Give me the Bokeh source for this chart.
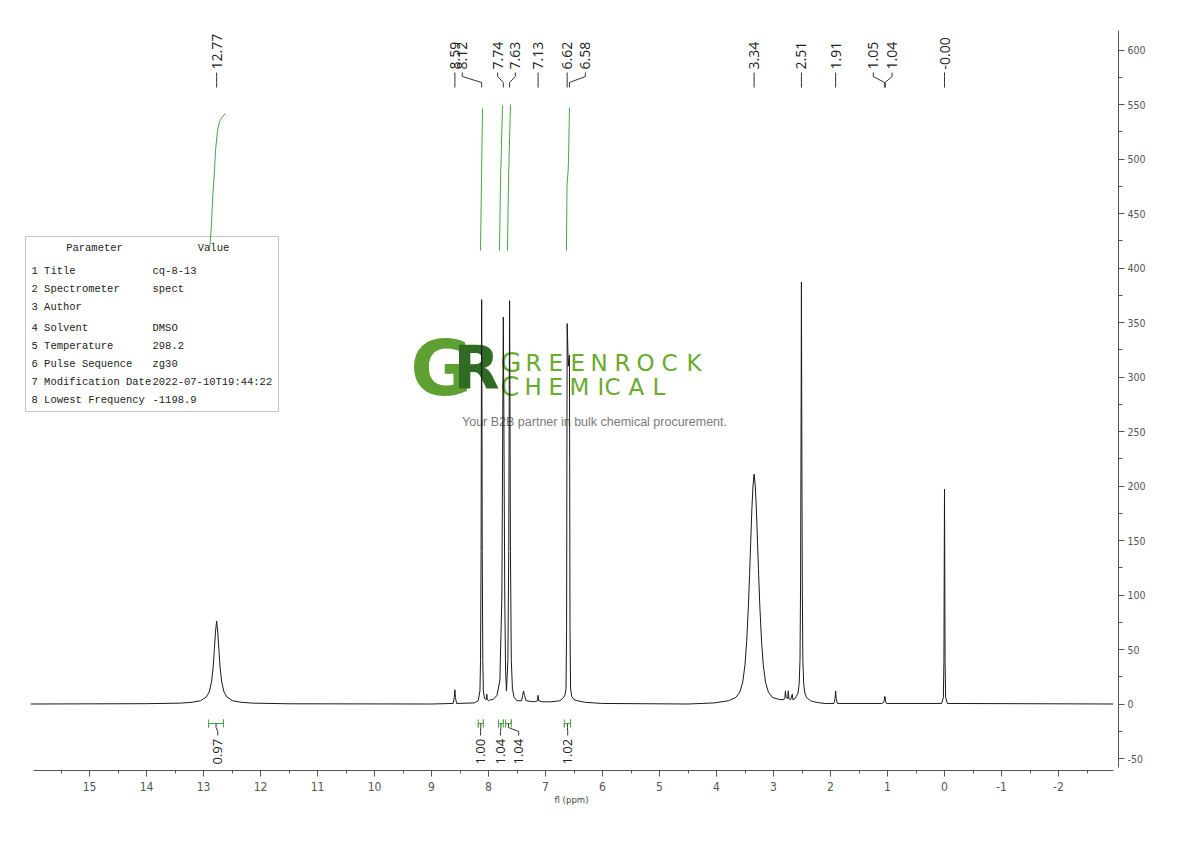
import math
from bokeh.plotting import figure
from bokeh.models import Range1d, FixedTicker
from bokeh.core.properties import value
from bokeh.embed import file_html
from bokeh.resources import INLINE

# ---------------- DATA ----------------
# 1H NMR trace: chemical shift (ppm) and intensity
trace_ppm = [16.03, 14.00, 13.40, 13.20, 13.05, 12.95, 12.90, 12.86, 12.83, 12.81, 12.79, 12.77,
             12.75, 12.73, 12.71, 12.68, 12.64, 12.59, 12.49, 12.34, 12.14, 11.50, 9.00,
             8.62, 8.60, 8.59, 8.58, 8.56, 8.25, 8.18, 8.15, 8.14, 8.13, 8.125, 8.12, 8.115, 8.11,
             8.10, 8.09, 8.07, 8.04, 8.03, 8.02, 8.00, 7.96, 7.92, 7.85, 7.80, 7.765, 7.75, 7.74,
             7.73, 7.715, 7.70, 7.685, 7.66, 7.645, 7.635, 7.63, 7.625, 7.615, 7.60, 7.58, 7.55,
             7.50, 7.42, 7.40, 7.385, 7.37, 7.34, 7.20, 7.14, 7.13, 7.12, 7.05, 6.90, 6.75, 6.70,
             6.66, 6.64, 6.63, 6.62, 6.60, 6.58, 6.57, 6.56, 6.54, 6.50, 6.44,
             6.30, 6.00, 4.50, 4.04, 3.79, 3.66, 3.59, 3.54, 3.50, 3.47, 3.44, 3.42, 3.40, 3.38,
             3.36, 3.34, 3.32, 3.30, 3.28, 3.26, 3.24, 3.21, 3.18, 3.14, 3.09, 3.02, 2.89, 2.82,
             2.80, 2.79, 2.78, 2.75, 2.74, 2.73, 2.70, 2.67, 2.66, 2.62, 2.60, 2.57, 2.55, 2.535,
             2.525, 2.515, 2.51, 2.505, 2.495, 2.485, 2.47, 2.45, 2.42, 2.35, 2.25, 2.10, 1.94,
             1.92, 1.91, 1.90, 1.88, 1.10, 1.065, 1.055, 1.05, 1.045, 1.04, 1.035, 1.02, 0.05,
             0.02, 0.01, 0.005, 0.00, -0.005, -0.01, -0.02, -0.05, -2.96]
trace_int = [0.0, 0.3, 0.8, 1.6, 3.0, 6.5, 11.0, 20.0, 34.0, 50.0, 66.0, 76.0,
             66.0, 50.0, 34.0, 20.0, 11.0, 6.5, 3.0, 1.6, 0.8, 0.2, 0.0,
             0.5, 6.0, 13.0, 6.0, 0.5, 1.0, 3.0, 12.0, 40.0, 140.0, 280.0, 371.0, 280.0, 140.0,
             40.0, 12.0, 5.0, 4.0, 9.0, 4.0, 3.0, 4.0, 4.0, 8.0, 22.0, 100.0, 260.0, 355.0,
             260.0, 100.0, 30.0, 12.0, 40.0, 140.0, 300.0, 370.0, 300.0, 140.0, 40.0, 14.0, 6.0,
             3.0, 3.0, 8.0, 12.0, 8.0, 3.0, 2.0, 3.0, 8.0, 3.0, 2.0, 2.0, 3.0, 5.0,
             8.0, 14.0, 70.0, 349.0, 310.0, 320.0, 70.0, 14.0, 7.0, 4.0, 3.0,
             1.5, 0.5, 0.0, 1.0, 3.0, 6.0, 11.0, 20.0, 36.0, 58.0, 90.0, 118.0, 148.0, 178.0,
             200.0, 211.0, 200.0, 178.0, 148.0, 118.0, 90.0, 58.0, 36.0, 20.0, 11.0, 6.0, 4.0, 4.0,
             6.0, 12.0, 6.0, 5.0, 12.0, 5.0, 4.0, 9.0, 4.0, 5.0, 7.0, 10.0, 18.0, 40.0,
             110.0, 280.0, 387.0, 280.0, 110.0, 40.0, 18.0, 10.0, 6.0, 3.0, 1.5, 0.5, 0.5,
             5.0, 12.0, 5.0, 0.5, 0.5, 1.5, 4.0, 7.0, 5.0, 6.0, 3.0, 0.5, 0.5,
             6.0, 40.0, 120.0, 197.0, 120.0, 40.0, 6.0, 0.5, 0.0]

# Peak picking labels
peak_labels = ["12.77", "8.59", "8.12", "7.74", "7.63", "7.13", "6.62", "6.58",
               "3.34", "2.51", "1.91", "1.05", "1.04", "-0.00"]
peak_ppm = [12.77, 8.59, 8.12, 7.74, 7.63, 7.13, 6.62, 6.58, 3.34, 2.51, 1.91, 1.05, 1.04, 0.00]
peak_label_ppm = [12.77, 8.59, 8.46, 7.84, 7.53, 7.13, 6.62, 6.30, 3.34, 2.51, 1.91, 1.25, 0.92, 0.00]

# Integrals
integral_labels = ["0.97", "1.00", "1.04", "1.04", "1.02"]
integral_from = [12.91, 8.18, 7.825, 7.70, 6.67]
integral_to = [12.65, 8.09, 7.74, 7.60, 6.56]
integral_label_ppm = [12.75, 8.14, 7.79, 7.47, 6.61]

# Integral curves (ppm, cumulative value)
intcurve_ppm = [
    [12.895, 12.860, 12.842, 12.807, 12.789, 12.754, 12.719, 12.667, 12.614],
    [8.140, 8.123, 8.105],
    [7.807, 7.789, 7.754],
    [7.667, 7.649, 7.614],
    [6.632, 6.623, 6.605, 6.596, 6.579],
]
intcurve_val = [
    [416.0, 439.0, 461.9, 489.4, 507.8, 526.1, 534.4, 539.0, 541.7],
    [416.0, 480.3, 546.3],
    [416.0, 480.3, 549.1],
    [416.0, 480.3, 550.0],
    [416.0, 475.7, 487.6, 498.6, 547.2],
]

# Axis ticks
x_ticks = [15, 14, 13, 12, 11, 10, 9, 8, 7, 6, 5, 4, 3, 2, 1, 0, -1, -2]
x_minor = [15.5, 14.5, 13.5, 12.5, 11.5, 10.5, 9.5, 8.5, 7.5, 6.5, 5.5, 4.5, 3.5, 2.5, 1.5,
           0.5, -0.5, -1.5, -2.5]
y_ticks = [-50, 0, 50, 100, 150, 200, 250, 300, 350, 400, 450, 500, 550, 600]
y_minor = [-25, 25, 75, 125, 175, 225, 275, 325, 375, 425, 475, 525, 575]

# Parameter table
param_names = ["1 Title", "2 Spectrometer", "3 Author", "4 Solvent", "5 Temperature",
               "6 Pulse Sequence", "7 Modification Date", "8 Lowest Frequency"]
param_values = ["cq-8-13", "spect", "", "DMSO", "298.2", "zg30", "2022-07-10T19:44:22", "-1198.9"]

# ---------------- LAYOUT helpers (page pixel -> data) ----------------
def dx(px):
    return (944.0 - px) / 57.0

def dy(py):
    return (703.5 - py) / 1.09

W, H = 1180, 830
p = figure(width=W, height=H, output_backend="svg", toolbar_location=None,
           x_range=Range1d(dx(24), dx(1118)), y_range=Range1d(dy(770), dy(30)),
           y_axis_location="right",
           min_border_left=24, min_border_right=W - 1118, min_border_top=30,
           min_border_bottom=H - 770)
p.outline_line_color = None
p.xgrid.visible = False
p.ygrid.visible = False
p.background_fill_color = "white"
p.border_fill_color = "white"

NARROW = "Liberation Sans Narrow, DejaVu Sans Condensed, Roboto"

xa = p.xaxis[0]
xa.ticker = FixedTicker(ticks=x_ticks, minor_ticks=x_minor)
xa.major_label_overrides = {t: str(t) for t in x_ticks}
xa.bounds = (15.98, -2.965)
xa.axis_line_color = "#555555"
xa.major_tick_line_color = "#555555"
xa.minor_tick_line_color = "#555555"
xa.major_tick_out = 6
xa.major_tick_in = 0
xa.minor_tick_out = 3
xa.minor_tick_in = 0
xa.major_label_text_font = NARROW
xa.major_label_text_font_size = "12px"
xa.major_label_text_color = "#555555"
xa.major_label_standoff = 5
xa.axis_label = "fl (ppm)"
xa.axis_label_text_font = NARROW
xa.axis_label_text_font_size = "9.5px"
xa.axis_label_text_font_style = "normal"
xa.axis_label_text_color = "#444444"
xa.axis_label_standoff = 0

ya = p.yaxis[0]
ya.ticker = FixedTicker(ticks=y_ticks, minor_ticks=y_minor)
ya.major_label_overrides = {t: str(t) for t in y_ticks}
ya.bounds = (dy(767), dy(30))
ya.axis_line_color = "#555555"
ya.major_tick_line_color = "#555555"
ya.minor_tick_line_color = "#555555"
ya.major_tick_out = 6
ya.major_tick_in = 0
ya.minor_tick_out = 4
ya.minor_tick_in = 0
ya.major_label_text_font = NARROW
ya.major_label_text_font_size = "10.5px"
ya.major_label_text_color = "#555555"
ya.major_label_standoff = 3

# ---------------- Watermark ----------------
p.text(x=[dx(441)], y=[dy(368)], text=["G"], text_font=value("DejaVu Sans"),
       text_font_style="bold", text_font_size=value("76px"), text_color="#5fa032",
       text_align="center", text_baseline="middle")
p.text(x=[dx(476)], y=[dy(367)], text=["R"], text_font=value("DejaVu Sans"),
       text_font_style="bold", text_font_size=value("60px"), text_color="#2f6b23",
       text_align="center", text_baseline="middle")
g_letters = list("GREENROCK")
g_starts = [500, 525, 548, 570, 590, 614, 636, 661, 686]
c_letters = list("CHEMICAL")
c_starts = [500, 524, 548, 569, 597, 604, 628, 652]
for letters, starts, base in ((g_letters, g_starts, 362), (c_letters, c_starts, 386)):
    p.text(x=[dx(starts[0])], y=[dy(base)], text=[letters[0]], text_font=value("DejaVu Sans"),
           text_font_size=value("27px"), text_color="#6aab2e", text_align="left",
           text_baseline="alphabetic")
    p.text(x=[dx(s) for s in starts[1:]], y=[dy(base)] * (len(starts) - 1), text=letters[1:],
           text_font=value("DejaVu Sans"), text_font_size=value("23px"), text_color="#6aab2e",
           text_align="left", text_baseline="alphabetic")
p.text(x=[dx(594)], y=[dy(421)], text=["Your B2B partner in bulk chemical procurement."],
       text_font=value("Liberation Sans"), text_font_size=value("12.5px"),
       text_color="#7a7a7a", text_align="center", text_baseline="middle")

# ---------------- Parameter table ----------------
p.quad(left=[dx(25)], right=[dx(278)], top=[dy(236)], bottom=[dy(411)],
       fill_color="white", line_color="#c4c4c4", line_width=1)
TFONT = value("Liberation Mono")
p.text(x=[dx(94), dx(213)], y=[dy(247)] * 2, text=["Parameter", "Value"], text_font=TFONT,
       text_font_size=value("10.5px"), text_color="#222222", text_align="center",
       text_baseline="middle")
row_y = [270, 288, 306, 327, 345, 363, 381, 399]
p.text(x=[dx(31)] * len(param_names), y=[dy(r) for r in row_y], text=param_names,
       text_font=TFONT, text_font_size=value("10.5px"), text_color="#222222",
       text_align="left", text_baseline="middle")
p.text(x=[dx(152)] * len(param_values), y=[dy(r) for r in row_y], text=param_values,
       text_font=TFONT, text_font_size=value("10.5px"), text_color="#222222",
       text_align="left", text_baseline="middle")

# ---------------- Spectrum ----------------
p.line(trace_ppm, trace_int, line_color="#1a1a1a", line_width=1)

# Integral curves
GREEN = "#48a548"
p.multi_line(xs=intcurve_ppm, ys=intcurve_val, line_color=GREEN, line_width=1)

# Integral brackets and labels
b_mid, b_half = dy(723), 3.7
br_xs, br_ys, con_xs, con_ys = [], [], [], []
for f, t, lx in zip(integral_from, integral_to, integral_label_ppm):
    br_xs.append([f, f, f, t, t, t])
    br_ys.append([b_mid + b_half, b_mid - b_half, b_mid, b_mid, b_mid + b_half, b_mid - b_half])
    c = (f + t) / 2.0
    con_xs.append([c, c, lx, lx])
    con_ys.append([b_mid, dy(727), dy(731), dy(735)])
p.multi_line(xs=br_xs, ys=br_ys, line_color=GREEN, line_width=1)
p.multi_line(xs=con_xs, ys=con_ys, line_color="#333333", line_width=1)
p.text(x=integral_label_ppm, y=[dy(764)] * len(integral_labels), text=integral_labels,
       angle=math.pi / 2, text_font=value("Open Sans"), text_font_size=value("13px"),
       text_color="#222222", text_align="left", text_baseline="middle")

# Peak labels with connectors
pk_xs, pk_ys = [], []
for pp, lp in zip(peak_ppm, peak_label_ppm):
    pk_xs.append([pp, pp, lp, lp])
    pk_ys.append([dy(87), dy(82), dy(76), dy(72)])
p.multi_line(xs=pk_xs, ys=pk_ys, line_color="#333333", line_width=1)
p.text(x=peak_label_ppm, y=[dy(69)] * len(peak_labels), text=peak_labels,
       angle=math.pi / 2, text_font=value("Open Sans"), text_font_size=value("14px"),
       text_color="#222222", text_align="left", text_baseline="middle")

open("out.html", "w").write(file_html(p, INLINE))
